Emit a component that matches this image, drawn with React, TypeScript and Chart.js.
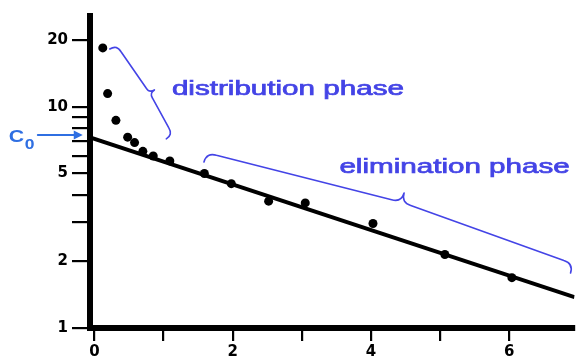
import React, { useEffect, useRef } from 'react';
import { Chart, registerables } from 'chart.js';

Chart.register(...registerables);

// ---- data (time in h, plasma concentration) ----
const TIME_H = [0.12, 0.19, 0.31, 0.48, 0.58, 0.70, 0.85, 1.09, 1.59, 1.98, 2.52, 3.05, 4.03, 5.07, 6.04];
const CONC = [18.5, 11.5, 8.7, 7.3, 6.9, 6.3, 6.0, 5.7, 5.0, 4.5, 3.75, 3.68, 2.97, 2.15, 1.69];

// fitted elimination line (log-linear)
const FIT_TIME = [-0.065, 6.946];
const FIT_CONC = [7.28, 1.38];

// axes
const X_RANGE = [-0.065, 6.946];
const Y_RANGE = [1, 25.8];
const X_TICKS = [0, 1, 2, 3, 4, 5, 6];
const X_LABELED = [0, 2, 4, 6];
const Y_TICKS = [1, 2, 3, 4, 5, 6, 7, 8, 9, 10, 20];
const Y_LABELED = [1, 2, 5, 10, 20];

// annotation labels
const DIST_LABEL = 'distribution phase';
const ELIM_LABEL = 'elimination phase';
const C0_MAIN = 'C';
const C0_SUB = '0';

// annotation anchors (data coordinates)
const ANNOT = {
  distText: { x: 1.12, y: 11.33 },
  elimText: { x: 3.544, y: 5.04 },
  c0Text: { x: -1.24, y: 6.94 },
  arrowFrom: { x: -0.82, y: 7.47 },
  arrowTo: { x: -0.17, y: 7.47 },
  distBrace: { p1: { x: 0.222, y: 18.3 }, p2: { x: 1.039, y: 7.17 }, tip: { x: 0.867, y: 11.94 }, curl: 8, tipCurl: 6 },
  elimBrace: { p1: { x: 1.584, y: 5.64 }, p2: { x: 6.889, y: 1.774 }, tip: { x: 4.48, y: 4.08 }, curl: 10, tipCurl: 10 },
};

const BLUE = '#4444e6';
const C0_BLUE = '#2f6fe2';

function drawBrace(ctx: CanvasRenderingContext2D, p1: number[], p2: number[], t: number[], a: number, b: number) {
  const dx = p2[0] - p1[0], dy = p2[1] - p1[1];
  const len = Math.hypot(dx, dy);
  const u = [dx / len, dy / len];
  const proj = (t[0] - p1[0]) * u[0] + (t[1] - p1[1]) * u[1];
  const m = [p1[0] + u[0] * proj, p1[1] + u[1] * proj];
  let n = [t[0] - m[0], t[1] - m[1]];
  const w = Math.hypot(n[0], n[1]);
  n = [n[0] / w, n[1] / w];
  const half = (p: number[], dir: number) => {
    ctx.moveTo(p[0], p[1]);
    ctx.quadraticCurveTo(p[0] + n[0] * a, p[1] + n[1] * a, p[0] + dir * u[0] * a + n[0] * a, p[1] + dir * u[1] * a + n[1] * a);
    ctx.lineTo(m[0] - dir * u[0] * b + n[0] * (w - b), m[1] - dir * u[1] * b + n[1] * (w - b));
    ctx.quadraticCurveTo(m[0] + n[0] * (w - b), m[1] + n[1] * (w - b), t[0], t[1]);
  };
  ctx.beginPath();
  half(p1, 1);
  half(p2, -1);
  ctx.stroke();
}

const annotationPlugin = {
  id: 'pkAnnotations',
  afterDatasetsDraw(chart: any) {
    const { ctx } = chart;
    const xs = chart.scales.x, ys = chart.scales.y;
    const P = (pt: { x: number; y: number }) => [xs.getPixelForValue(pt.x), ys.getPixelForValue(pt.y)];
    ctx.save();

    // phase labels (horizontally stretched like the source figure)
    ctx.fillStyle = BLUE;
    ctx.strokeStyle = BLUE;
    ctx.lineWidth = 0.7;
    ctx.font = '20px "Liberation Sans", Arial, sans-serif';
    ctx.textBaseline = 'alphabetic';
    ctx.textAlign = 'left';
    const stretched = (txt: string, pt: { x: number; y: number }) => {
      const [px, py] = P(pt);
      ctx.save();
      ctx.translate(px, py);
      ctx.scale(1.48, 1);
      ctx.fillText(txt, 0, 0);
      ctx.strokeText(txt, 0, 0);
      ctx.restore();
    };
    stretched(DIST_LABEL, ANNOT.distText);
    stretched(ELIM_LABEL, ANNOT.elimText);

    // braces
    ctx.strokeStyle = BLUE;
    ctx.lineWidth = 1.6;
    ctx.lineCap = 'round';
    ctx.lineJoin = 'round';
    for (const br of [ANNOT.distBrace, ANNOT.elimBrace]) {
      drawBrace(ctx, P(br.p1), P(br.p2), P(br.tip), br.curl, br.tipCurl);
    }

    // C0 label
    ctx.fillStyle = C0_BLUE;
    const [cx, cy] = P(ANNOT.c0Text);
    ctx.save();
    ctx.translate(cx, cy);
    ctx.scale(1.25, 1);
    ctx.font = 'bold 17px "Liberation Sans", Arial, sans-serif';
    ctx.fillText(C0_MAIN, 0, 0);
    const cw = ctx.measureText(C0_MAIN).width;
    ctx.font = 'bold 14px "Liberation Sans", Arial, sans-serif';
    ctx.fillText(C0_SUB, cw + 0.5, 7);
    ctx.restore();

    // arrow
    const [ax0, ay0] = P(ANNOT.arrowFrom);
    const [ax1, ay1] = P(ANNOT.arrowTo);
    ctx.strokeStyle = C0_BLUE;
    ctx.lineWidth = 2;
    ctx.beginPath();
    ctx.moveTo(ax0, ay0);
    ctx.lineTo(ax1 - 6, ay1);
    ctx.stroke();
    ctx.beginPath();
    ctx.moveTo(ax1, ay1);
    ctx.lineTo(ax1 - 9, ay1 - 4.5);
    ctx.lineTo(ax1 - 9, ay1 + 4.5);
    ctx.closePath();
    ctx.fill();

    ctx.restore();
  },
};

export default function App() {
  const ref = useRef<HTMLCanvasElement | null>(null);

  useEffect(() => {
    if (!ref.current) return;
    const tickFont = { family: '"DejaVu Sans", sans-serif', weight: 'bold' as const, size: 15 };
    const chart = new Chart(ref.current, {
      type: 'scatter',
      data: {
        datasets: [
          {
            label: 'observed',
            data: TIME_H.map((t, i) => ({ x: t, y: CONC[i] })),
            showLine: false,
            pointRadius: 4.5,
            pointBackgroundColor: '#000',
            pointBorderColor: '#000',
            pointBorderWidth: 0,
          },
          {
            label: 'fit',
            data: FIT_TIME.map((t, i) => ({ x: t, y: FIT_CONC[i] })),
            showLine: true,
            pointRadius: 0,
            borderColor: '#000',
            borderWidth: 4,
          },
        ],
      },
      options: {
        animation: false,
        responsive: false,
        maintainAspectRatio: false,
        layout: { padding: { top: 16, left: 0, right: 0, bottom: 0 } },
        plugins: { legend: { display: false }, tooltip: { enabled: false } },
        scales: {
          x: {
            type: 'linear',
            min: X_RANGE[0],
            max: X_RANGE[1],
            afterBuildTicks: (s: any) => {
              s.ticks = X_TICKS.map((v) => ({ value: v }));
            },
            afterFit: (s: any) => {
              s.height = 28;
            },
            grid: { drawOnChartArea: false, drawTicks: true, tickLength: 13, color: '#000', lineWidth: 2.2 },
            border: { display: true, color: '#000', width: 6 },
            ticks: {
              autoSkip: false,
              maxRotation: 0,
              padding: 2,
              color: '#000',
              font: tickFont,
              callback: (v: any) => (X_LABELED.includes(Number(v)) ? String(v) : ''),
            },
          },
          y: {
            type: 'logarithmic',
            min: Y_RANGE[0],
            max: Y_RANGE[1],
            afterBuildTicks: (s: any) => {
              s.ticks = Y_TICKS.map((v) => ({ value: v }));
            },
            afterFit: (s: any) => {
              s.width = 90;
            },
            grid: { drawOnChartArea: false, drawTicks: true, tickLength: 18, color: '#000', lineWidth: 2.2 },
            border: { display: true, color: '#000', width: 6 },
            ticks: {
              autoSkip: false,
              padding: 4,
              color: '#000',
              font: tickFont,
              callback: (v: any) => (Y_LABELED.includes(Number(v)) ? String(v) : ''),
            },
          },
        },
      },
      plugins: [annotationPlugin],
    });
    return () => chart.destroy();
  }, []);

  return (
    <div style={{ position: 'fixed', left: 0, top: 0, width: 579, height: 356, background: '#fff' }}>
      <canvas ref={ref} width={579} height={356} style={{ display: 'block', width: 579, height: 356 }} />
    </div>
  );
}
